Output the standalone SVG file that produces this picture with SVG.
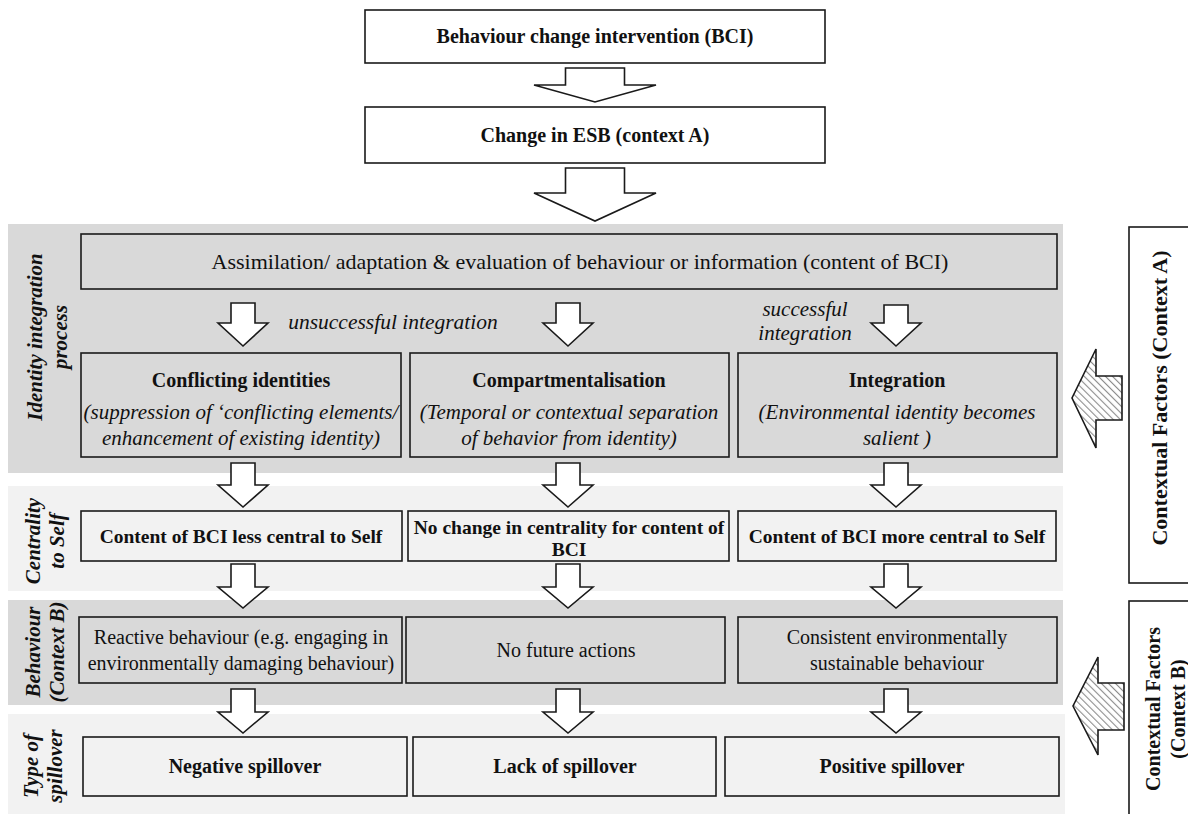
<svg xmlns="http://www.w3.org/2000/svg" width="1188" height="814" viewBox="0 0 1188 814">
<defs>
<pattern id="hatch" patternUnits="userSpaceOnUse" width="5" height="5" patternTransform="rotate(-45)">
<rect width="5" height="5" fill="#ffffff"/>
<line x1="0" y1="0" x2="0" y2="5" stroke="#8c8c8c" stroke-width="2.2"/>
</pattern>
<style>
.bx{stroke:#1a1a1a;stroke-width:1.6}
.w{fill:#ffffff}
.g{fill:#d9d9d9}
.l{fill:#f2f2f2}
.ar{fill:#ffffff;stroke:#1a1a1a;stroke-width:1.6;stroke-linejoin:miter}
.ha{fill:url(#hatch);stroke:#1a1a1a;stroke-width:1.6}
text{font-family:"Liberation Serif","Times New Roman",serif;fill:#111;text-anchor:middle}
.b{font-weight:bold;font-size:20px}
.bc{font-weight:bold;font-size:19.5px}
.r{font-size:20px}
.ra{font-size:22px}
.i{font-style:italic;font-size:21px}
.bi{font-weight:bold;font-style:italic;font-size:21px}
.bv{font-weight:bold;font-size:22px}
</style>
</defs>
<rect width="1188" height="814" fill="#ffffff"/>

<g id="bands">
<rect x="8" y="224" width="1055" height="249" class="g"/>
<rect x="8" y="486" width="1055" height="105" class="l"/>
<rect x="8" y="600" width="1055" height="105" class="g"/>
<rect x="8" y="714" width="1057" height="100" class="l"/>
</g>

<g id="row-labels">
<g transform="translate(0,337) rotate(-90)"><text class="bi" y="42">Identity integration</text><text class="bi" y="67">process</text></g>
<g transform="translate(0,541) rotate(-90)"><text class="bi" y="40">Centrality</text><text class="bi" y="64">to Self</text></g>
<g transform="translate(0,652) rotate(-90)"><text class="bi" y="40">Behaviour</text><text class="bi" y="64">(Context B)</text></g>
<g transform="translate(0,766) rotate(-90)"><text class="bi" y="38">Type of</text><text class="bi" y="62">spillover</text></g>
</g>

<g id="n-bci"><rect x="365" y="10" width="460" height="53" class="bx w"/><text class="b" x="595" y="43">Behaviour change intervention (BCI)</text></g>
<g id="n-esb"><rect x="365" y="107" width="460" height="56" class="bx w"/><text class="b" x="595" y="142">Change in ESB (context A)</text></g>

<g id="n-assim"><rect x="81" y="234" width="976" height="55" class="bx g"/><text class="ra" x="580" y="269">Assimilation/ adaptation &amp; evaluation of behaviour or information (content of BCI)</text></g>

<g id="n-conflict"><rect x="81" y="353" width="320" height="104" class="bx g"/>
<text class="b" x="241" y="387">Conflicting identities</text>
<text class="i" x="241" y="419">(suppression of ‘conflicting elements/</text>
<text class="i" x="241" y="445">enhancement of existing identity)</text></g>
<g id="n-compart"><rect x="410" y="353" width="319" height="104" class="bx g"/>
<text class="b" x="569" y="387">Compartmentalisation</text>
<text class="i" x="569" y="419">(Temporal or contextual separation</text>
<text class="i" x="569" y="445">of behavior from identity)</text></g>
<g id="n-integ"><rect x="738" y="353" width="319" height="104" class="bx g"/>
<text class="b" x="897" y="387">Integration</text>
<text class="i" x="897" y="419">(Environmental identity becomes</text>
<text class="i" x="897" y="445">salient )</text></g>

<g id="n-less"><rect x="81" y="511" width="321" height="50" class="bx l"/><text class="bc" x="241" y="543">Content of BCI less central to Self</text></g>
<g id="n-nochange"><rect x="408" y="511" width="321" height="50" class="bx l"/><text class="bc" x="569" y="534">No change in centrality for content of</text><text class="bc" x="569" y="556">BCI</text></g>
<g id="n-more"><rect x="738" y="511" width="318" height="50" class="bx l"/><text class="bc" x="897" y="543">Content of BCI more central to Self</text></g>

<g id="n-reactive"><rect x="79" y="617" width="323" height="66" class="bx g"/><text class="r" x="241" y="644">Reactive behaviour (e.g. engaging in</text><text class="r" x="241" y="670">environmentally damaging behaviour)</text></g>
<g id="n-nofuture"><rect x="406" y="617" width="319" height="66" class="bx g"/><text class="r" x="566" y="657">No future actions</text></g>
<g id="n-consistent"><rect x="738" y="617" width="319" height="66" class="bx g"/><text class="r" x="897" y="644">Consistent environmentally</text><text class="r" x="897" y="670">sustainable behaviour</text></g>

<g id="n-negative"><rect x="83" y="737" width="324" height="59" class="bx l"/><text class="b" x="245" y="773">Negative spillover</text></g>
<g id="n-lack"><rect x="413" y="737" width="303" height="59" class="bx l"/><text class="b" x="565" y="773">Lack of spillover</text></g>
<g id="n-positive"><rect x="725" y="737" width="334" height="59" class="bx l"/><text class="b" x="892" y="773">Positive spillover</text></g>

<g id="n-ctxA"><rect x="1129" y="227" width="80" height="356" class="bx w"/>
<g transform="translate(1167,398) rotate(-90)"><text class="bv" x="0" y="0">Contextual Factors (Context A)</text></g></g>
<g id="n-ctxB"><rect x="1129" y="601" width="80" height="240" class="bx w"/>
<g transform="translate(0,709) rotate(-90)"><text class="b" x="0" y="1160">Contextual Factors</text><text class="b" x="0" y="1185">(Context B)</text></g></g>

<g id="labels">
<text class="i" x="393" y="329" style="font-size:21.5px">unsuccessful integration</text>
<text class="i" x="805" y="316">successful</text>
<text class="i" x="805" y="340">integration</text>
</g>

<g id="connectors">
<path class="ar" d="M565.5,68 H624.5 V85 H656 L595,102 L534,85 H565.5 Z"/>
<path class="ar" d="M565.5,168 H624.5 V193 H656 L595,221 L534,193 H565.5 Z"/>

<path class="ar" d="M231,303 H255 V323 H268 L243,346 L218,323 H231 Z"/>
<path class="ar" d="M556,303 H580 V323 H593 L568,346 L543,323 H556 Z"/>
<path class="ar" d="M884,305 H908 V323 H921 L896,346 L871,323 H884 Z"/>

<path class="ar" d="M231,463 H255 V485 H268 L243,507 L218,485 H231 Z"/>
<path class="ar" d="M556,463 H580 V485 H593 L568,507 L543,485 H556 Z"/>
<path class="ar" d="M884,463 H908 V485 H921 L896,507 L871,485 H884 Z"/>

<path class="ar" d="M231,564 H255 V587 H268 L243,608 L218,587 H231 Z"/>
<path class="ar" d="M556,564 H580 V587 H593 L568,608 L543,587 H556 Z"/>
<path class="ar" d="M884,564 H908 V587 H921 L896,608 L871,587 H884 Z"/>

<path class="ar" d="M231,689 H255 V712 H268 L243,733 L218,712 H231 Z"/>
<path class="ar" d="M556,689 H580 V712 H593 L568,733 L543,712 H556 Z"/>
<path class="ar" d="M884,689 H908 V712 H921 L896,733 L871,712 H884 Z"/>

<path class="ha" d="M1122,376 V420 H1096 V448 L1072,398 L1096,349 V376 Z"/>
<path class="ha" d="M1124,683 V730 H1098 V755 L1073,706 L1098,657 V683 Z"/>
</g>
</svg>
